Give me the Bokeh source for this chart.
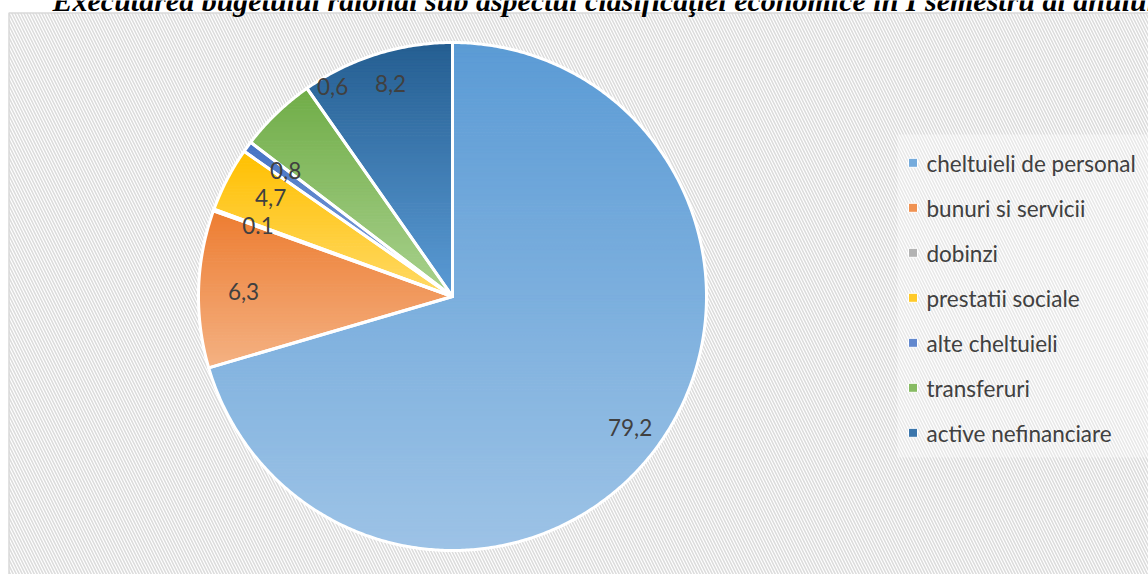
import math
import numpy as np
from bokeh.plotting import figure
from bokeh.models import Range1d
from bokeh.core.properties import value
from bokeh.embed import file_html
from bokeh.resources import INLINE

# ---------------- data ----------------
categories = ["cheltuieli de personal", "bunuri si servicii", "dobinzi",
              "prestatii sociale", "alte cheltuieli", "transferuri",
              "active nefinanciare"]
shares = [70.4, 10.0, 0.1, 4.1, 0.7, 4.9, 9.7]          # slice sizes as drawn (%)
label_texts = ["79,2", "6,3", "0.1", "4,7", "0,8", "0,6", "8,2"]
title_text = ("Executarea  bugetului raional sub aspectul clasificaţiei "
              "economice în I semestru al  anului")

# ---------------- style ----------------
top_colors = ["#5B9BD5", "#ED7D31", "#A5A5A5", "#FFC000", "#4472C4", "#70AD47", "#255E91"]
bottom_colors = ["#9DC3E6", "#F4B183", "#C9C9C9", "#FFD966", "#8FAADC", "#A9D18E", "#5B9BD5"]
# label anchor (angle clockwise from top in degrees, radius in px)
label_polar = [(126.5, 221), (271.3, 209), (290.0, 207), (298.5, 207),
               (307.0, 209), (330.3, 242), (343.8, 222)]

W, H = 1148, 574
X0, Y0 = 0, 0                       # data units equal screen px
CX, CY, R = 452.0, 296.0, 254.0
TXT = "#404040"
FONT = "Lato"


def hex2rgb(h):
    h = h.lstrip("#")
    return np.array([int(h[i:i + 2], 16) for i in (0, 2, 4)], dtype=float)


def mix(c1, c2, t):
    c = hex2rgb(c1) * (1 - t) + hex2rgb(c2) * t
    return "#%02x%02x%02x" % tuple(int(round(v)) for v in c)


def clip_half(poly, yc, keep_below):
    out = []
    n = len(poly)
    if n == 0:
        return out
    def inside(q):
        return q[1] >= yc if keep_below else q[1] <= yc
    for i in range(n):
        a = poly[i]
        b = poly[(i + 1) % n]
        ia, ib = inside(a), inside(b)
        if ia:
            out.append(a)
        if ia != ib:
            t = (yc - a[1]) / (b[1] - a[1])
            out.append((a[0] + t * (b[0] - a[0]), yc))
    return out


p = figure(width=W, height=H, output_backend="svg", toolbar_location=None,
           x_range=Range1d(X0, X0 + W), y_range=Range1d(Y0 + H, Y0),
           min_border=0, outline_line_color=None)
p.axis.visible = False
p.xgrid.visible = False
p.ygrid.visible = False
p.background_fill_color = "white"
p.border_fill_color = "white"

# chart area with diagonal stripes
p.quad(left=[8.5], right=[1170], top=[12.5], bottom=[600],
       fill_color="white", line_color="#D9D9D9", line_width=1.5,
       hatch_pattern="\\", hatch_color="#DCDCDC", hatch_scale=6,
       hatch_weight=1.6)

# title (cut at the top edge, as in the reference)
p.text(x=[52], y=[0], text=[title_text], text_font=value("Liberation Serif"),
       text_font_style="bold italic", text_font_size="30px",
       text_color="black", text_baseline="alphabetic", text_align="left")

# pie slices with vertical gradient
total = sum(shares)
start = 0.0
wedge_polys = []
for i, s in enumerate(shares):
    a0 = start
    a1 = start + 360.0 * s / total
    start = a1
    n = max(2, int(math.ceil((a1 - a0) / 0.5)))
    angs = np.radians(np.linspace(a0, a1, n + 1))
    poly = [(CX, CY)] + [(CX + R * math.sin(a), CY - R * math.cos(a)) for a in angs]
    wedge_polys.append(poly)
    ys_all = [q[1] for q in poly]
    ymin, ymax = min(ys_all), max(ys_all)
    nb = max(1, int(math.ceil((ymax - ymin) / 3.0)))
    bxs, bys, bcol = [], [], []
    for k in range(nb):
        ya = ymin + (ymax - ymin) * k / nb
        yb = ymin + (ymax - ymin) * (k + 1) / nb
        piece = clip_half(poly, ya, True)
        piece = clip_half(piece, yb, False)
        if len(piece) < 3:
            continue
        t = (k + 0.5) / nb
        bxs.append([q[0] for q in piece])
        bys.append([q[1] for q in piece])
        bcol.append(mix(top_colors[i], bottom_colors[i], t))
    p.patches(xs=bxs, ys=bys, fill_color=bcol, line_color=bcol, line_width=1)

# white slice borders
p.patches(xs=[[q[0] for q in poly] for poly in wedge_polys],
          ys=[[q[1] for q in poly] for poly in wedge_polys],
          fill_alpha=0, line_color="white", line_width=3, line_join="round")

# data labels
lx = [CX + r * math.sin(math.radians(a)) for a, r in label_polar]
ly = [CY - r * math.cos(math.radians(a)) for a, r in label_polar]
p.text(x=lx, y=ly, text=label_texts, text_font=value(FONT),
       text_font_size="22.5px", text_color=TXT, text_align="center",
       text_baseline="middle")

# legend
leg_x, leg_y0, leg_dy = 912.5, 162.3, 45.0
leg_ys = [leg_y0 + leg_dy * i for i in range(len(categories))]
leg_cols = [mix(top_colors[i], bottom_colors[i], 0.4) for i in range(len(categories))]
p.quad(left=[897], right=[1170], top=[134], bottom=[457],
       fill_color="white", fill_alpha=0.35, line_color=None)
p.rect(x=[leg_x] * len(categories), y=leg_ys, width=9, height=9,
       fill_color=leg_cols, line_color="white", line_width=1)
p.text(x=[leg_x + 13.5] * len(categories), y=[y + 1 for y in leg_ys],
       text=categories, text_font=value(FONT), text_font_size="22.5px",
       text_color=TXT, text_align="left", text_baseline="middle")

open("out.html", "w").write(file_html(p, INLINE))
